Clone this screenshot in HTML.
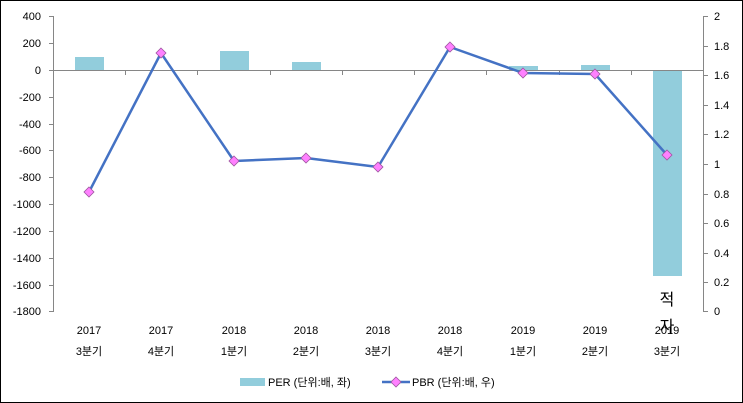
<!DOCTYPE html>
<html><head><meta charset="utf-8"><style>
html,body{margin:0;padding:0;background:#fff}
svg{display:block;font-family:"Liberation Sans","Noto Sans CJK KR",sans-serif}
</style></head><body>
<svg width="743" height="403" viewBox="0 0 743 403" xmlns="http://www.w3.org/2000/svg">
<rect x="0.5" y="0.5" width="742" height="402" fill="#fff" stroke="#000" stroke-width="1"/>
<g fill="#92CDDC">
<rect x="75" y="57" width="29" height="13"/>
<rect x="220" y="51" width="29" height="19"/>
<rect x="292" y="62" width="29" height="8"/>
<rect x="509" y="66" width="29" height="4"/>
<rect x="581" y="65" width="29" height="5"/>
<rect x="653" y="70" width="29" height="206"/>
</g>
<g stroke="#868686" stroke-width="1" fill="none">
<line x1="53.5" y1="16" x2="53.5" y2="312"/>
<line x1="703.5" y1="16" x2="703.5" y2="312"/>
<line x1="53" y1="70.5" x2="703" y2="70.5"/>
<path d="M49 16.5H53M49 43.5H53M49 70.5H53M49 97.5H53M49 124.5H53M49 150.5H53M49 177.5H53M49 204.5H53M49 231.5H53M49 258.5H53M49 285.5H53M49 311.5H53"/>
<path d="M703 16.5H708M703 46.5H708M703 75.5H708M703 105.5H708M703 134.5H708M703 164.5H708M703 194.5H708M703 223.5H708M703 253.5H708M703 282.5H708M703 311.5H708"/>
<path d="M125.5 70V75M197.5 70V75M270.5 70V75M342.5 70V75M414.5 70V75M486.5 70V75M559.5 70V75M631.5 70V75M703.5 70V75"/>
</g>
<g font-size="11" fill="#000" text-anchor="end">
<text x="41" y="20">400</text><text x="41" y="47">200</text><text x="41" y="74">0</text>
<text x="41" y="101">-200</text><text x="41" y="128">-400</text><text x="41" y="154">-600</text>
<text x="41" y="181">-800</text><text x="41" y="208">-1000</text><text x="41" y="235">-1200</text>
<text x="41" y="262">-1400</text><text x="41" y="289">-1600</text><text x="41" y="315">-1800</text>
</g>
<g font-size="11" fill="#000">
<text x="714" y="20">2</text><text x="714" y="50">1.8</text><text x="714" y="79">1.6</text>
<text x="714" y="109">1.4</text><text x="714" y="138">1.2</text><text x="714" y="168">1</text>
<text x="714" y="198">0.8</text><text x="714" y="227">0.6</text><text x="714" y="257">0.4</text>
<text x="714" y="286">0.2</text><text x="714" y="315">0</text>
</g>
<polyline points="89,192 161,53 234,161 306,158 378,167 450,47 523,73 595,74 667,155" fill="none" stroke="#4472C4" stroke-width="2.5" stroke-linejoin="round"/>
<g fill="#FF80FF" stroke="#9E57A0" stroke-width="0.8">
<path d="M89 187l5 5-5 5-5-5z"/><path d="M161 48l5 5-5 5-5-5z"/><path d="M234 156l5 5-5 5-5-5z"/>
<path d="M306 153l5 5-5 5-5-5z"/><path d="M378 162l5 5-5 5-5-5z"/><path d="M450 42l5 5-5 5-5-5z"/>
<path d="M523 68l5 5-5 5-5-5z"/><path d="M595 69l5 5-5 5-5-5z"/><path d="M667 150l5 5-5 5-5-5z"/>
</g>
<g font-size="11" fill="#000" text-anchor="middle">
<text x="89" y="334">2017</text><text x="89" y="355">3분기</text>
<text x="161" y="334">2017</text><text x="161" y="355">4분기</text>
<text x="234" y="334">2018</text><text x="234" y="355">1분기</text>
<text x="306" y="334">2018</text><text x="306" y="355">2분기</text>
<text x="378" y="334">2018</text><text x="378" y="355">3분기</text>
<text x="450" y="334">2018</text><text x="450" y="355">4분기</text>
<text x="523" y="334">2019</text><text x="523" y="355">1분기</text>
<text x="595" y="334">2019</text><text x="595" y="355">2분기</text>
<text x="667" y="334">2019</text><text x="667" y="355">3분기</text>
</g>
<g font-size="16" fill="#000" text-anchor="middle">
<text x="667" y="305">적</text><text x="667" y="332">자</text>
</g>
<rect x="240" y="378" width="25" height="8" fill="#92CDDC"/>
<text x="268" y="386" font-size="11">PER (단위:배, 좌)</text>
<line x1="382" y1="382" x2="410" y2="382" stroke="#4472C4" stroke-width="2.5"/>
<path d="M396 377l5 5-5 5-5-5z" fill="#FF80FF" stroke="#9E57A0" stroke-width="0.8"/>
<text x="412" y="386" font-size="11">PBR (단위:배, 우)</text>
</svg>
</body></html>
